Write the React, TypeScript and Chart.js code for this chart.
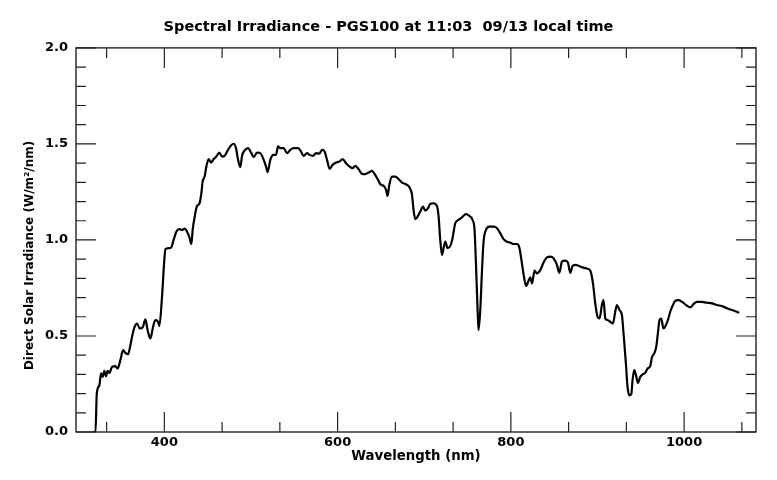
import { useEffect, useRef } from "react";
import { Chart, registerables } from "chart.js";

Chart.register(...registerables);

// wavelength (nm) and direct irradiance (W/m2/nm)
const wavelength = [
  317.3, 320.5, 322.0, 325.0, 326.9, 328.8, 330.8, 332.7, 334.6, 336.5,
  339.6, 343.4, 346.1, 349.2, 352.3, 355.0, 358.1, 360.8, 362.7, 365.7,
  368.5, 371.5, 375.0, 378.1, 380.7, 383.8, 387.0, 389.6, 392.7, 394.2,
  397.3, 399.7, 401.2, 405.0, 408.1, 410.7, 413.8, 417.3, 420.4, 423.4,
  426.2, 428.9, 431.2, 432.7, 435.0, 437.7, 440.4, 442.7, 444.2, 446.5,
  448.5, 451.1, 453.9, 456.9, 460.0, 463.5, 466.6, 469.6, 473.5, 477.0,
  480.0, 482.7, 485.1, 487.7, 489.7, 492.7, 496.6, 500.1, 503.1, 507.0,
  510.8, 513.9, 517.4, 519.2, 522.3, 526.1, 528.9, 531.2, 533.9, 537.7,
  541.6, 545.4, 549.2, 554.3, 557.0, 560.8, 564.7, 567.7, 571.6, 575.1,
  578.9, 582.0, 585.0, 587.8, 590.8, 594.2, 598.2, 602.0, 605.8, 609.7,
  613.9, 617.3, 620.4, 624.2, 628.2, 632.0, 635.8, 639.7, 642.7, 646.6,
  649.3, 653.1, 655.9, 657.7, 659.7, 662.8, 666.6, 670.4, 674.3, 678.9,
  682.8, 685.9, 687.7, 689.7, 692.8, 695.4, 698.6, 701.2, 704.3, 707.0,
  710.8, 714.7, 716.6, 718.5, 720.5, 722.3, 724.3, 727.0, 730.1, 732.7,
  735.8, 739.6, 743.6, 748.2, 752.0, 755.8, 758.1, 759.7, 761.6, 762.7,
  764.7, 766.7, 768.5, 771.3, 775.1, 780.1, 784.0, 787.8, 791.6, 795.5,
  799.3, 803.1, 807.0, 809.7, 812.8, 815.8, 817.8, 820.4, 822.4, 824.4,
  827.4, 830.1, 833.9, 837.8, 841.7, 845.5, 849.3, 853.2, 855.9, 859.0,
  862.8, 865.9, 868.6, 871.2, 875.1, 878.9, 882.8, 886.7, 891.7, 894.8,
  897.4, 900.1, 902.4, 905.1, 907.0, 909.0, 911.6, 914.7, 917.8, 920.5,
  922.4, 925.4, 928.2, 930.1, 932.8, 934.7, 936.7, 939.0, 940.5, 942.4,
  944.4, 946.7, 949.4, 952.5, 955.1, 957.8, 960.9, 962.8, 965.8, 967.8,
  969.7, 971.6, 973.6, 976.2, 979.0, 981.3, 984.0, 987.1, 989.7, 993.6,
  997.5, 1002.4, 1007.1, 1010.9, 1014.8, 1020.6, 1026.3, 1032.1, 1037.9, 1043.6,
  1049.4, 1055.2, 1060.9, 1063.6,
];

const irradiance = [
  0.0, 0.0, 0.2, 0.243, 0.305, 0.287, 0.318, 0.29, 0.318, 0.308,
  0.339, 0.343, 0.331, 0.374, 0.426, 0.412, 0.405, 0.452, 0.496, 0.548,
  0.565, 0.539, 0.545, 0.586, 0.53, 0.487, 0.548, 0.583, 0.574, 0.551,
  0.704, 0.878, 0.951, 0.957, 0.962, 1.0, 1.043, 1.056, 1.052, 1.059,
  1.043, 1.014, 0.979, 1.052, 1.121, 1.177, 1.188, 1.243, 1.304, 1.33,
  1.382, 1.421, 1.403, 1.421, 1.434, 1.455, 1.434, 1.438, 1.469, 1.492,
  1.501, 1.478, 1.417, 1.379, 1.438, 1.466, 1.478, 1.455, 1.431, 1.455,
  1.452, 1.426, 1.382, 1.353, 1.417, 1.443, 1.443, 1.487, 1.478, 1.478,
  1.452, 1.469, 1.478, 1.478, 1.466, 1.438, 1.452, 1.443, 1.438, 1.452,
  1.449, 1.469, 1.46, 1.417, 1.37, 1.391, 1.403, 1.408, 1.421, 1.4,
  1.382, 1.374, 1.386, 1.369, 1.344, 1.343, 1.351, 1.36, 1.344, 1.313,
  1.29, 1.282, 1.261, 1.229, 1.287, 1.33, 1.33, 1.317, 1.299, 1.29,
  1.275, 1.235, 1.156, 1.108, 1.125, 1.148, 1.174, 1.153, 1.165, 1.188,
  1.191, 1.177, 1.121, 1.0, 0.922, 0.957, 0.991, 0.957, 0.969, 1.009,
  1.087, 1.104, 1.118, 1.134, 1.125, 1.104, 1.052, 0.878, 0.635, 0.53,
  0.635, 0.843, 0.991, 1.052, 1.069, 1.069, 1.061, 1.035, 1.004, 0.991,
  0.986, 0.979, 0.979, 0.962, 0.878, 0.791, 0.76, 0.788, 0.805, 0.774,
  0.84, 0.826, 0.843, 0.882, 0.91, 0.913, 0.904, 0.87, 0.829, 0.887,
  0.892, 0.882, 0.829, 0.864, 0.87, 0.864, 0.857, 0.852, 0.84, 0.774,
  0.67, 0.6, 0.591, 0.661, 0.687, 0.591, 0.583, 0.574, 0.565, 0.626,
  0.661, 0.635, 0.609, 0.513, 0.357, 0.235, 0.191, 0.197, 0.27, 0.322,
  0.296, 0.256, 0.287, 0.301, 0.308, 0.331, 0.343, 0.388, 0.412, 0.443,
  0.513, 0.583, 0.591, 0.539, 0.557, 0.583, 0.626, 0.661, 0.683, 0.687,
  0.678, 0.661, 0.649, 0.666, 0.678, 0.678, 0.673, 0.67, 0.661, 0.656,
  0.644, 0.635, 0.626, 0.621,
];

const xMajorTicks = [400, 600, 800, 1000];
const yMajorTicks = [0, 0.5, 1.0, 1.5, 2.0];

const X_MIN = 298;
const X_MAX = 1083;
const FONT = "'DejaVu Sans', sans-serif";
const Y_TITLE = "Direct Solar Irradiance (W/m²/nm)";

// minor ticks: 3 intervals between x majors, 5 between y majors
const xMinorTicks: number[] = [];
for (let m = 200; m <= 1000; m += 200) {
  [m + 200 / 3, m + 400 / 3].forEach((v) => {
    if (v > X_MIN && v < X_MAX) xMinorTicks.push(v);
  });
}
const yMinorTicks: number[] = [];
for (let i = 1; i < 20; i++) {
  if (i % 5 !== 0) yMinorTicks.push(i / 10);
}

// IDL-style box with inward ticks on all four sides, plus the y title
const frameTicks = {
  id: "frameTicks",
  afterDatasetsDraw(chart: Chart) {
    const { ctx, chartArea } = chart;
    const { left, right, top, bottom } = chartArea;
    const xs = chart.scales.x;
    const ys = chart.scales.y;
    ctx.save();
    ctx.strokeStyle = "#222";
    ctx.lineWidth = 1.4;
    ctx.strokeRect(left, top, right - left, bottom - top);
    ctx.lineWidth = 1.2;
    ctx.beginPath();
    const xt = (v: number, len: number) => {
      const px = xs.getPixelForValue(v);
      ctx.moveTo(px, bottom);
      ctx.lineTo(px, bottom - len);
      ctx.moveTo(px, top);
      ctx.lineTo(px, top + len);
    };
    const yt = (v: number, len: number) => {
      const py = ys.getPixelForValue(v);
      ctx.moveTo(left, py);
      ctx.lineTo(left + len, py);
      ctx.moveTo(right, py);
      ctx.lineTo(right - len, py);
    };
    xMajorTicks.forEach((v) => xt(v, 20));
    xMinorTicks.forEach((v) => xt(v, 10));
    yMajorTicks.forEach((v) => yt(v, 20));
    yMinorTicks.forEach((v) => yt(v, 10));
    ctx.stroke();

    // y title sits a little below the plot centre, as in the original
    ctx.translate(30, (top + bottom) / 2 + 15.5);
    ctx.rotate(-Math.PI / 2);
    ctx.fillStyle = "#000";
    ctx.font = `bold 12px ${FONT}`;
    ctx.textAlign = "center";
    ctx.textBaseline = "middle";
    ctx.fillText(Y_TITLE, 0, 0);
    ctx.restore();
  },
};

export default function App() {
  const canvasRef = useRef<HTMLCanvasElement>(null);
  const chartRef = useRef<Chart | null>(null);

  useEffect(() => {
    document.body.style.margin = "0";
    if (!canvasRef.current) return;

    const points = wavelength.map((w, i) => ({ x: w, y: irradiance[i] }));

    chartRef.current = new Chart(canvasRef.current, {
      type: "line",
      data: {
        datasets: [
          {
            data: points,
            borderColor: "#000",
            borderWidth: 2.2,
            pointRadius: 0,
            cubicInterpolationMode: "monotone",
            borderJoinStyle: "round",
          },
        ],
      },
      options: {
        animation: false,
        responsive: true,
        maintainAspectRatio: false,
        layout: { padding: 0 },
        plugins: {
          legend: { display: false },
          tooltip: { enabled: false },
          title: {
            display: true,
            text: "Spectral Irradiance - PGS100 at 11:03  09/13 local time",
            color: "#000",
            font: { family: FONT, size: 14.5, weight: "bold" },
            padding: { top: 19, bottom: 11.5 },
          },
        },
        scales: {
          x: {
            type: "linear",
            min: X_MIN,
            max: X_MAX,
            grid: { display: false, drawTicks: false },
            border: { display: false },
            afterBuildTicks: (scale: any) => {
              scale.ticks = xMajorTicks.map((v) => ({ value: v }));
            },
            afterFit: (scale: any) => {
              scale.height = 48;
            },
            ticks: {
              color: "#000",
              padding: 3,
              maxRotation: 0,
              autoSkip: false,
              font: { family: FONT, size: 13, weight: "bold" },
              callback: (v: any) => String(v),
            },
            title: {
              display: true,
              text: "Wavelength (nm)",
              color: "#000",
              font: { family: FONT, size: 13.3, weight: "bold" },
              padding: { top: 0, bottom: 15 },
            },
          },
          y: {
            min: 0,
            max: 2,
            grid: { display: false, drawTicks: false },
            border: { display: false },
            afterBuildTicks: (scale: any) => {
              scale.ticks = yMajorTicks.map((v) => ({ value: v }));
            },
            afterFit: (scale: any) => {
              scale.width = 76;
            },
            ticks: {
              color: "#000",
              padding: 8,
              autoSkip: false,
              font: { family: FONT, size: 13, weight: "bold" },
              callback: (v: any) => Number(v).toFixed(1),
            },
          },
          // empty right-hand axis that only reserves the margin right of the box
          yRight: {
            position: "right",
            min: 0,
            max: 2,
            grid: { display: false, drawTicks: false },
            border: { display: false },
            ticks: { display: false },
            afterFit: (scale: any) => {
              scale.width = 21;
            },
          },
        },
      },
      plugins: [frameTicks],
    });

    return () => {
      if (chartRef.current) {
        chartRef.current.destroy();
        chartRef.current = null;
      }
    };
  }, []);

  return (
    <div style={{ position: "relative", width: 777, height: 480 }}>
      <canvas ref={canvasRef} />
    </div>
  );
}
